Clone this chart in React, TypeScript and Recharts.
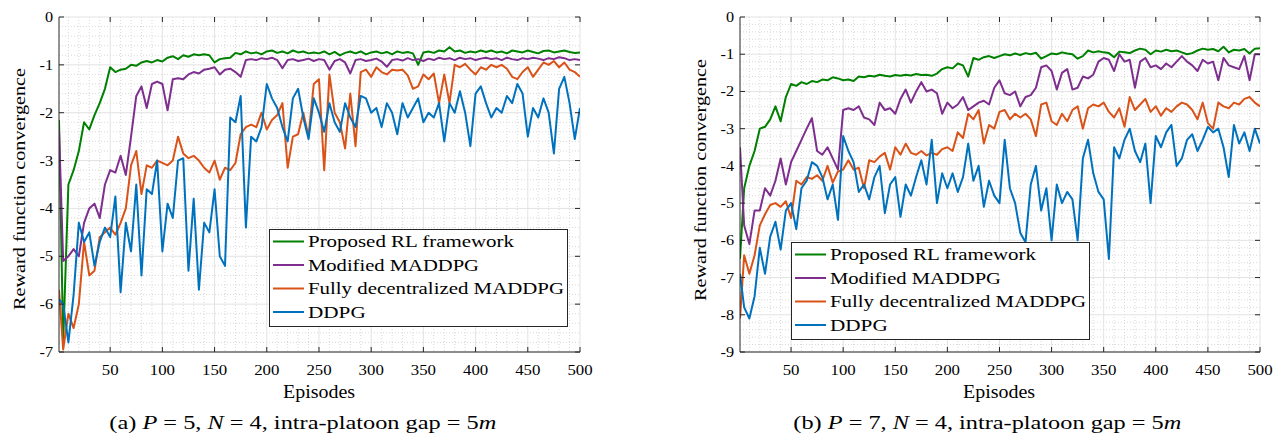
import React from 'react';
import { LineChart, Line, XAxis, YAxis, CartesianGrid, Legend } from 'recharts';

const FONT = 'Liberation Serif, Tinos, Times New Roman, serif';
const AX = '#262626';

const SERIES = [
  { key: 'g', name: 'Proposed RL framework', color: '#008000' },
  { key: 'm', name: 'Modified MADDPG', color: '#7E2F8E' },
  { key: 'f', name: 'Fully decentralized MADDPG', color: '#D95319' },
  { key: 'd', name: 'DDPG', color: '#0072BD' },
];

// Episode index of each sample: 1, 5, 10, ..., 500
const episodes = Array.from({ length: 101 }, (_, i) => (i === 0 ? 1 : i * 5));

// ---------- panel (a): P = 5 ----------
const proposedA = [-2.15,
  -6.8, -3.5, -3.2, -2.8, -2.2, -2.35, -2.05, -1.8, -1.5, -1.05,
  -1.15, -1.1, -1.08, -1.0, -1.02, -0.95, -0.92, -0.95, -0.9, -0.93,
  -0.85, -0.82, -0.88, -0.8, -0.83, -0.78, -0.8, -0.78, -0.8, -0.95,
  -0.88, -0.86, -0.85, -0.75, -0.78, -0.72, -0.76, -0.74, -0.78, -0.72,
  -0.7, -0.75, -0.72, -0.76, -0.7, -0.74, -0.72, -0.76, -0.74, -0.76,
  -0.72, -0.78, -0.73, -0.8, -0.75, -0.72, -0.76, -0.72, -0.78, -0.74,
  -0.72, -0.76, -0.73, -0.78, -0.72, -0.75, -0.73, -0.76, -1.0, -0.74,
  -0.72, -0.75, -0.7, -0.72, -0.63, -0.72, -0.7, -0.75, -0.72, -0.74,
  -0.7, -0.73, -0.7, -0.74, -0.72, -0.76, -0.7, -0.72, -0.74, -0.7,
  -0.73, -0.76, -0.71, -0.7, -0.74, -0.72, -0.7, -0.73, -0.75, -0.74];

const modifiedA = [-2.36,
  -5.1, -5.0, -4.85, -5.0, -4.3, -4.0, -3.9, -4.2, -3.5, -3.2,
  -3.25, -2.9, -3.3, -2.5, -1.65, -1.45, -1.9, -1.4, -1.35, -1.4,
  -1.95, -1.3, -1.28, -1.3, -1.2, -1.15, -1.18, -1.1, -1.08, -1.05,
  -1.2, -1.1, -1.08, -1.15, -1.25, -0.9, -0.88, -0.9, -0.86, -0.88,
  -0.85, -0.9, -1.07, -0.9, -0.88, -0.92, -0.9, -0.87, -0.92, -0.88,
  -0.9, -1.1, -0.92, -0.88, -0.95, -1.18, -0.9, -0.88, -0.92, -0.9,
  -0.87, -0.93, -1.04, -0.9, -0.88, -0.91, -0.86, -0.9, -0.88, -0.92,
  -0.87, -0.9, -0.85, -0.88, -0.86, -0.9, -0.85, -0.88, -0.86, -0.9,
  -0.87, -0.85, -0.88, -0.86, -0.9, -0.85, -0.88, -0.9, -0.86, -0.88,
  -0.85, -0.87, -0.9, -0.86, -0.88, -0.84, -0.86, -0.9, -0.88, -0.9];

const fullyDecA = [-5.7,
  -6.95, -6.2, -6.5, -6.0, -4.7, -5.4, -5.3, -4.6, -4.5, -4.4,
  -4.55, -4.3, -4.0, -3.1, -2.8, -3.7, -3.1, -3.15, -3.0, -3.05,
  -3.1, -3.0, -2.5, -2.85, -2.95, -2.9, -3.0, -3.15, -3.25, -3.0,
  -3.4, -3.15, -3.2, -3.05, -2.45, -2.3, -2.25, -2.3, -2.0, -2.35,
  -2.15, -2.05, -1.8, -3.15, -2.5, -2.45, -2.0, -2.5, -1.4, -1.3,
  -3.2, -1.2, -2.0, -2.2, -2.75, -1.6, -2.7, -1.15, -1.1, -1.25,
  -1.05, -1.15, -1.2, -1.1, -1.12, -1.1, -1.22, -1.5, -1.45, -1.2,
  -1.3, -1.18, -1.8, -1.2, -1.8, -1.0, -1.05, -0.98, -1.1, -1.2,
  -1.05, -1.1, -1.0, -1.05, -1.0, -1.08, -1.25, -1.3, -1.15, -1.05,
  -1.25, -1.1, -0.95, -1.0, -0.92, -1.05, -0.95, -1.1, -1.15, -1.25];

const ddpgA = [-5.9,
  -6.0, -6.8, -5.8, -4.3, -4.7, -4.5, -5.2, -4.7, -4.4, -4.6,
  -3.75, -5.75, -4.3, -4.9, -3.5, -5.4, -3.6, -3.7, -3.0, -4.9,
  -3.9, -4.2, -3.0, -2.95, -5.3, -3.8, -5.7, -4.3, -4.5, -3.6,
  -5.0, -5.2, -2.1, -2.2, -1.65, -4.4, -2.5, -2.6, -2.3, -1.4,
  -1.7, -1.9, -2.3, -2.6, -1.7, -1.5, -2.1, -2.55, -1.7, -2.0,
  -2.4, -1.8, -2.2, -2.4, -1.8, -2.1, -2.3, -1.65, -1.7, -2.0,
  -1.9, -2.3, -1.8, -2.0, -2.45, -1.8, -2.1, -1.9, -1.7, -2.2,
  -2.0, -2.1, -1.8, -2.6, -1.8, -2.0, -1.55, -2.0, -2.7, -1.6,
  -1.45, -1.8, -2.1, -1.9, -2.0, -1.65, -1.8, -1.4, -1.6, -2.5,
  -1.9, -2.1, -1.7, -2.0, -2.85, -1.5, -1.25, -1.8, -2.55, -1.9];

// ---------- panel (b): P = 7 ----------
const proposedB = [-6.5,
  -4.6, -4.0, -3.6, -3.0, -2.95, -2.75, -2.4, -2.8, -2.15, -1.8,
  -1.85, -1.75, -1.8, -1.72, -1.75, -1.68, -1.7, -1.62, -1.65, -1.7,
  -1.68, -1.72, -1.6, -1.62, -1.58, -1.6, -1.55, -1.58, -1.6, -1.56,
  -1.58, -1.55, -1.57, -1.53, -1.56, -1.55, -1.58, -1.52, -1.4, -1.35,
  -1.38, -1.25, -1.3, -1.6, -1.1, -1.15, -1.08, -1.05, -1.1, -1.05,
  -1.0, -1.03, -0.98, -1.02, -0.97, -1.0, -0.96, -1.12, -1.05, -0.98,
  -1.0, -0.95, -0.98, -1.0, -1.12, -1.05, -0.9, -0.95, -0.92, -0.95,
  -0.97, -1.08, -0.93, -0.95, -0.97, -0.9, -0.85, -0.88, -1.0, -0.9,
  -0.93, -0.88, -0.92, -0.9, -0.95, -1.0, -0.97, -0.9, -0.85, -0.88,
  -0.86, -0.92, -0.8, -0.95, -0.88, -0.9, -0.86, -0.98, -0.85, -0.84];

const modifiedB = [-3.5,
  -5.6, -6.1, -5.2, -5.2, -4.6, -4.8, -4.4, -3.8, -4.5, -3.9,
  -3.6, -3.3, -3.0, -2.72, -3.6, -3.7, -3.5, -3.8, -4.1, -2.5,
  -2.45, -2.5, -2.4, -2.7, -2.75, -2.9, -2.3, -2.5, -2.45, -2.6,
  -2.2, -1.95, -2.3, -2.0, -1.75, -2.0, -1.95, -2.05, -2.6, -2.3,
  -2.45, -2.35, -2.15, -2.5, -2.4, -2.3, -2.25, -2.35, -1.9, -1.7,
  -2.05, -2.1, -2.0, -2.4, -2.15, -2.1, -1.9, -1.35, -1.3, -1.45,
  -1.95, -1.5, -1.4, -1.95, -1.9, -1.6, -1.65, -1.55, -1.2, -1.1,
  -1.15, -1.45, -1.0, -1.2, -1.15, -1.9, -1.2, -1.1, -1.35, -1.3,
  -1.4, -1.25, -1.35, -1.2, -1.05, -1.2, -1.3, -1.45, -1.15, -1.25,
  -1.2, -1.7, -1.1, -1.3, -1.35, -1.4, -1.05, -1.7, -1.0, -1.0];

const fullyDecB = [-8.1,
  -6.4, -6.9, -6.4, -5.6, -5.3, -5.05, -5.0, -5.1, -4.95, -5.4,
  -4.4, -4.5, -4.3, -4.35, -4.25, -4.4, -4.0, -4.45, -4.15, -4.1,
  -3.85, -4.1, -4.05, -4.6, -3.85, -3.9, -3.75, -3.65, -4.1, -3.5,
  -3.7, -3.4, -3.65, -3.7, -3.6, -3.72, -3.65, -3.7, -3.55, -3.5,
  -3.6, -3.1, -3.25, -2.6, -2.75, -2.5, -3.4, -2.9, -3.0, -2.55,
  -2.5, -2.75, -2.6, -2.7, -2.6, -2.75, -3.2, -2.35, -2.3, -2.8,
  -2.9, -2.6, -2.8, -2.5, -2.4, -3.0, -2.45, -2.35, -2.4, -2.3,
  -2.55, -2.7, -2.45, -2.95, -2.15, -2.5, -2.35, -2.2, -2.55, -2.4,
  -2.65, -2.45, -2.55, -2.4, -2.3, -2.35, -2.5, -2.75, -2.3, -2.85,
  -3.0, -2.3, -2.4, -2.45, -2.3, -2.35, -2.2, -2.15, -2.3, -2.4];

const ddpgB = [-6.9,
  -7.8, -8.1, -7.5, -6.2, -6.9, -5.9, -5.5, -6.25, -5.2, -5.0,
  -5.7, -4.6, -4.4, -3.9, -4.0, -4.3, -4.9, -4.5, -5.45, -3.2,
  -3.6, -3.9, -4.7, -4.5, -4.9, -4.3, -4.0, -5.27, -4.5, -4.3,
  -5.37, -4.5, -4.8, -4.3, -3.85, -4.5, -3.3, -5.0, -4.2, -4.6,
  -4.2, -4.7, -4.3, -3.4, -4.4, -4.0, -5.1, -4.4, -4.8, -5.0,
  -3.3, -4.6, -5.0, -5.8, -6.05, -4.5, -4.0, -5.2, -4.6, -6.0,
  -4.5, -5.0, -4.7, -4.9, -6.0, -3.8, -3.3, -4.2, -4.7, -4.9,
  -6.5, -3.5, -3.8, -3.3, -3.0, -3.6, -3.9, -3.4, -5.0, -3.2,
  -3.5, -3.1, -2.9, -4.0, -3.8, -3.3, -3.15, -3.6, -3.3, -2.95,
  -3.1, -3.0, -3.5, -4.3, -2.9, -3.4, -3.1, -3.6, -3.0, -3.4];

// ---------- axes ----------
const xTicks = [50, 100, 150, 200, 250, 300, 350, 400, 450, 500];
const xMinor = [10, 20, 30, 40, 60, 70, 80, 90, 110, 120, 130, 140, 160, 170, 180, 190, 210, 220, 230, 240,
  260, 270, 280, 290, 310, 320, 330, 340, 360, 370, 380, 390, 410, 420, 430, 440, 460, 470, 480, 490];
const yTicksA = [-7, -6, -5, -4, -3, -2, -1, 0];
const yTicksB = [-9, -8, -7, -6, -5, -4, -3, -2, -1, 0];
const minorFrom = (lo: number) => {
  const out: number[] = [];
  for (let k = Math.round(lo * 5); k < 0; k++) if (k % 5 !== 0) out.push(k / 5);
  return out;
};

const LEG_LEN: Record<string, number> = {
  'Proposed RL framework': 206,
  'Modified MADDPG': 171,
  'Fully decentralized MADDPG': 256,
  'DDPG': 57.7,
};
const ORDER = SERIES.map((s) => s.name);

const buildRows = (g: number[], m: number[], f: number[], d: number[]) =>
  episodes.map((ep, i) => ({ ep, g: g[i], m: m[i], f: f[i], d: d[i] }));

const rowsA = buildRows(proposedA, modifiedA, fullyDecA, ddpgA);
const rowsB = buildRows(proposedB, modifiedB, fullyDecB, ddpgB);

const LegendBox = (props: any) => {
  const payload = [...(props.payload || [])].sort(
    (a: any, b: any) => ORDER.indexOf(a.value) - ORDER.indexOf(b.value));
  return (
    <svg width={299} height={98} style={{ display: 'block' }}>
      <rect x={0.5} y={0.5} width={298} height={97} fill="#ffffff" stroke={AX} strokeWidth={1} />
      {payload.map((e: any, i: number) => {
        const y = 12.5 + i * 23.5;
        return (
          <g key={String(e.value)}>
            <line x1={4} x2={35} y1={y} y2={y} stroke={e.color} strokeWidth={2} />
            <text x={39} y={y + 5.5} fontSize={17} fontFamily={FONT} fill="#000"
              textLength={LEG_LEN[e.value]} lengthAdjust="spacingAndGlyphs">{e.value}</text>
          </g>
        );
      })}
    </svg>
  );
};

type PanelProps = {
  rows: any[];
  yMin: number;
  yTicks: number[];
  yAxisWidth: number;
  legendLeft: number;
  legendTop: number;
};

const W = 600;
const H = 440;
const MR = 20;
const MT = 17;
const XH = 88;

const Panel = ({ rows, yMin, yTicks, yAxisWidth, legendLeft, legendTop }: PanelProps) => {
  const PL = yAxisWidth;
  const PR = W - MR;
  const PT = MT;
  const PB = H - XH;
  const yMinor = minorFrom(yMin);

  const XTick = (p: any) => {
    const x = p.x;
    return (
      <g>
        <line x1={x} x2={x} y1={PB} y2={PB - 5} stroke={AX} strokeWidth={1} />
        <line x1={x} x2={x} y1={PT} y2={PT + 5} stroke={AX} strokeWidth={1} />
        <text transform={`translate(${x} 375) scale(1.12 1)`} textAnchor="middle" fontSize={15}
          fontFamily={FONT} fill="#000">{p.payload.value}</text>
      </g>
    );
  };
  const YTick = (p: any) => {
    const y = p.y;
    return (
      <g>
        <line x1={PL} x2={PL + 5} y1={y} y2={y} stroke={AX} strokeWidth={1} />
        <line x1={PR - 5} x2={PR} y1={y} y2={y} stroke={AX} strokeWidth={1} />
        <text transform={`translate(${PL - 6} ${y + 5}) scale(1.08 1)`} textAnchor="end" fontSize={15}
          fontFamily={FONT} fill="#000">{p.payload.value}</text>
      </g>
    );
  };

  return (
    <LineChart width={W} height={H} data={rows} margin={{ top: MT, right: MR, bottom: 0, left: 0 }}>
      <CartesianGrid stroke="#d9d9d9" strokeDasharray="1 2" verticalValues={xMinor} horizontalValues={yMinor} />
      <CartesianGrid stroke="#e3e3e3" verticalValues={xTicks} horizontalValues={yTicks} />
      <XAxis dataKey="ep" type="number" domain={[1, 500]} ticks={xTicks} interval={0} tick={XTick}
        tickLine={false} axisLine={{ stroke: AX }} height={XH} allowDataOverflow />
      <XAxis xAxisId="top" orientation="top" dataKey="ep" type="number" domain={[1, 500]} tick={false}
        tickLine={false} axisLine={{ stroke: AX }} height={0} />
      <YAxis type="number" domain={[yMin, 0]} ticks={yTicks} interval={0} tick={YTick} tickLine={false}
        axisLine={{ stroke: AX }} width={yAxisWidth} allowDataOverflow />
      <YAxis yAxisId="right" orientation="right" type="number" domain={[yMin, 0]} tick={false}
        tickLine={false} axisLine={{ stroke: AX }} width={0} />
      <Legend layout="vertical" align="center" verticalAlign="middle"
        wrapperStyle={{ left: legendLeft, top: legendTop, width: 299, height: 98 }} content={LegendBox} />
      {SERIES.map((s) => (
        <Line key={s.key} type="linear" dataKey={s.key} name={s.name} stroke={s.color} strokeWidth={2}
          dot={false} activeDot={false} isAnimationActive={false} strokeLinejoin="round" />
      ))}
    </LineChart>
  );
};

const Caption = ({ x, y, letter, p, len }: { x: number; y: number; letter: string; p: number; len: number }) => (
  <text x={x} y={y} fontSize={18.5} fontFamily={FONT} fill="#000" textLength={len} lengthAdjust="spacingAndGlyphs">
    ({letter}) <tspan fontStyle="italic">P</tspan> = {p}, <tspan fontStyle="italic">N</tspan> = 4, intra-platoon gap = 5<tspan fontStyle="italic">m</tspan>
  </text>
);

export default function App() {
  return (
    <div style={{ position: 'absolute', left: 0, top: 0, width: 1283, height: 440, background: '#fff', fontFamily: FONT }}>
      <div style={{ position: 'absolute', left: 0, top: 0 }}>
        <Panel rows={rowsA} yMin={-7} yTicks={yTicksA} yAxisWidth={59} legendLeft={269} legendTop={229} />
      </div>
      <div style={{ position: 'absolute', left: 680, top: 0 }}>
        <Panel rows={rowsB} yMin={-9} yTicks={yTicksB} yAxisWidth={60} legendLeft={110.5} legendTop={242} />
      </div>
      <svg width={1283} height={440} style={{ position: 'absolute', left: 0, top: 0, pointerEvents: 'none' }}>
        <text transform="translate(24.5 189) rotate(-90)" textAnchor="middle" fontSize={17} fontFamily={FONT}
          fill="#000" textLength={242} lengthAdjust="spacingAndGlyphs">Reward function convergence</text>
        <text transform="translate(706 180) rotate(-90)" textAnchor="middle" fontSize={17} fontFamily={FONT}
          fill="#000" textLength={242} lengthAdjust="spacingAndGlyphs">Reward function convergence</text>
        <text x={319} y={398} textAnchor="middle" fontSize={18} fontFamily={FONT} fill="#000"
          textLength={72} lengthAdjust="spacingAndGlyphs">Episodes</text>
        <text x={999} y={398} textAnchor="middle" fontSize={18} fontFamily={FONT} fill="#000"
          textLength={72} lengthAdjust="spacingAndGlyphs">Episodes</text>
        <Caption x={109.3} y={428.5} letter="a" p={5} len={387} />
        <Caption x={793.3} y={428.5} letter="b" p={7} len={388} />
      </svg>
    </div>
  );
}
